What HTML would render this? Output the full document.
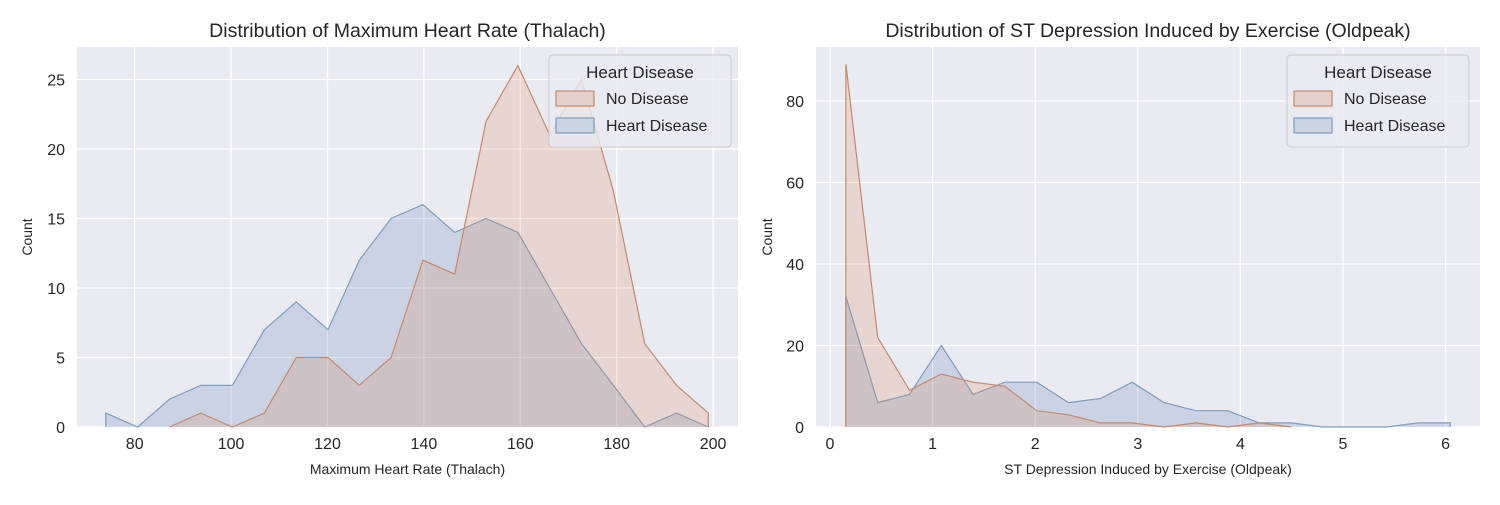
<!DOCTYPE html>
<html><head><meta charset="utf-8"><style>
body{margin:0;background:#fff;font-family:"Liberation Sans",Arial,sans-serif;}
svg text{font-family:"Liberation Sans",Arial,sans-serif;fill:#262626;}
</style></head><body>
<svg id="chart" width="1500" height="500" viewBox="0 0 1500 500" xmlns="http://www.w3.org/2000/svg"></svg>
<script>
// Left chart data (Thalach)
const thalachBins = [74,80.6,87.2,93.7,100.3,106.9,113.5,120.1,126.6,133.2,139.8,146.4,152.9,159.5,166.1,172.7,179.3,185.8,192.4,199];
const thalachHeart = [1,0,2,3,3,7,9,7,12,15,16,14,15,14,10,6,3,0,1,0];
const thalachNo = [null,null,0,1,0,1,5,5,3,5,12,11,22,26,21,25,17,6,3,1];
const thalachXTicks = [80,100,120,140,160,180,200];
const thalachYTicks = [0,5,10,15,20,25];
// Right chart data (Oldpeak)
const oldpeakBins = [0.155,0.465,0.775,1.085,1.395,1.705,2.015,2.325,2.635,2.945,3.255,3.565,3.875,4.185,4.495,4.805,5.115,5.425,5.735,6.045];
const oldpeakNo = [89,22,9,13,11,10,4,3,1,1,0,1,0,1,0,null,null,null,null,null];
const oldpeakHeart = [32,6,8,20,8,11,11,6,7,11,6,4,4,1,1,0,0,0,1,1];
const oldpeakXTicks = [0,1,2,3,4,5,6];
const oldpeakYTicks = [0,20,40,60,80];

const svg = document.getElementById('chart');
const NS = 'http://www.w3.org/2000/svg';
function mk(tag, attrs, parent){const e=document.createElementNS(NS,tag);for(const k in attrs)e.setAttribute(k,attrs[k]);(parent||svg).appendChild(e);return e;}

function drawPanel(cfg){
  const g = mk('g',{});
  
  
  const {L,R,T,B} = cfg;
  const sx = v => cfg.x0px + (v-cfg.x0)*cfg.xs;
  const sy = v => B - v*cfg.ys;
  const bg = mk('rect',{x:L,y:T,width:R-L,height:B-T,fill:'#eaeaf2'},g);
  
  
  cfg.xticks.forEach(t=>{
    const x=sx(t);
    mk('line',{x1:x,x2:x,y1:T,y2:B,stroke:'#fff','stroke-width':1.3},g);
    const tx=mk('text',{x:x,y:B+22,'font-size':16,'text-anchor':'middle'},g);tx.textContent=t;
    
    
  });
  cfg.yticks.forEach(t=>{
    const y=sy(t);
    mk('line',{x1:L,x2:R,y1:y,y2:y,stroke:'#fff','stroke-width':1.3},g);
    const tx=mk('text',{x:L-12,y:y+6,'font-size':16,'text-anchor':'end'},g);tx.textContent=t;
    
    
  });
  cfg.series.forEach(s=>{
    const pts=[];
    s.vals.forEach((v,i)=>{if(v!==null)pts.push([sx(cfg.bins[i]),sy(v)]);});
    const first=pts[0], last=pts[pts.length-1];
    const all=[[first[0],B],...pts,[last[0],B]];
    const d='M'+all.map(p=>p[0].toFixed(1)+','+p[1].toFixed(1)).join('L');
    const f=mk('path',{d:d+'Z',fill:s.fill,stroke:'none'},g);
    
    
    const l=mk('path',{d:d,fill:'none',stroke:s.stroke,'stroke-width':1.2},g);
    
    
  });
  const title=mk('text',{x:(L+R)/2,y:T-10,'font-size':19.5,'text-anchor':'middle'},g);title.textContent=cfg.title;
  
  
  const xl=mk('text',{x:(L+R)/2,y:B+47,'font-size':14,'text-anchor':'middle'},g);xl.textContent=cfg.xlabel;
  
  
  const yl=mk('text',{x:0,y:0,'font-size':14,'text-anchor':'middle',transform:`translate(${cfg.ylx},${(T+B)/2}) rotate(-90)`},g);yl.textContent='Count';
  
  
  const lg=mk('g',{},g);
  
  
  const lx=cfg.legX, ly=55;
  mk('rect',{x:lx,y:ly,width:182,height:92,rx:4,fill:'#eaeaf2','fill-opacity':0.8,stroke:'#cccccc'},lg);
  const lt=mk('text',{x:lx+91,y:ly+23,'font-size':17,'text-anchor':'middle'},lg);lt.textContent='Heart Disease';
  cfg.series.slice().reverse().forEach((s,i)=>{
    const yy=ly+36+i*27;
    const sw=mk('rect',{x:lx+7,y:yy,width:38,height:15,fill:s.legFill,stroke:s.stroke,'stroke-width':1.2},lg);
    
    
    const tt=mk('text',{x:lx+57,y:yy+13,'font-size':16},lg);tt.textContent=s.label;
    
    
  });
}
const orange={stroke:'#c8886a',fill:'rgba(221,132,82,0.2)',legFill:'#e3cfcb'};
const blue={stroke:'#7b9ec2',fill:'rgba(76,114,176,0.2)',legFill:'#ccd4e2'};
drawPanel({name:'thalach-panel',L:77,R:738,T:47,B:427,x0:80,x0px:134.7,xs:4.82,ys:13.9,
  bins:thalachBins,xticks:thalachXTicks,yticks:thalachYTicks,legX:549,ylx:32,
  title:'Distribution of Maximum Heart Rate (Thalach)',xlabel:'Maximum Heart Rate (Thalach)',
  series:[{key:'heart-disease',label:'Heart Disease',vals:thalachHeart,...blue},{key:'no-disease',label:'No Disease',vals:thalachNo,...orange}]});
drawPanel({name:'oldpeak-panel',L:816,R:1480,T:47,B:427,x0:0,x0px:830,xs:102.6,ys:4.075,
  bins:oldpeakBins,xticks:oldpeakXTicks,yticks:oldpeakYTicks,legX:1287,ylx:772,
  title:'Distribution of ST Depression Induced by Exercise (Oldpeak)',xlabel:'ST Depression Induced by Exercise (Oldpeak)',
  series:[{key:'heart-disease',label:'Heart Disease',vals:oldpeakHeart,...blue},{key:'no-disease',label:'No Disease',vals:oldpeakNo,...orange}]});
</script>
</body></html>
